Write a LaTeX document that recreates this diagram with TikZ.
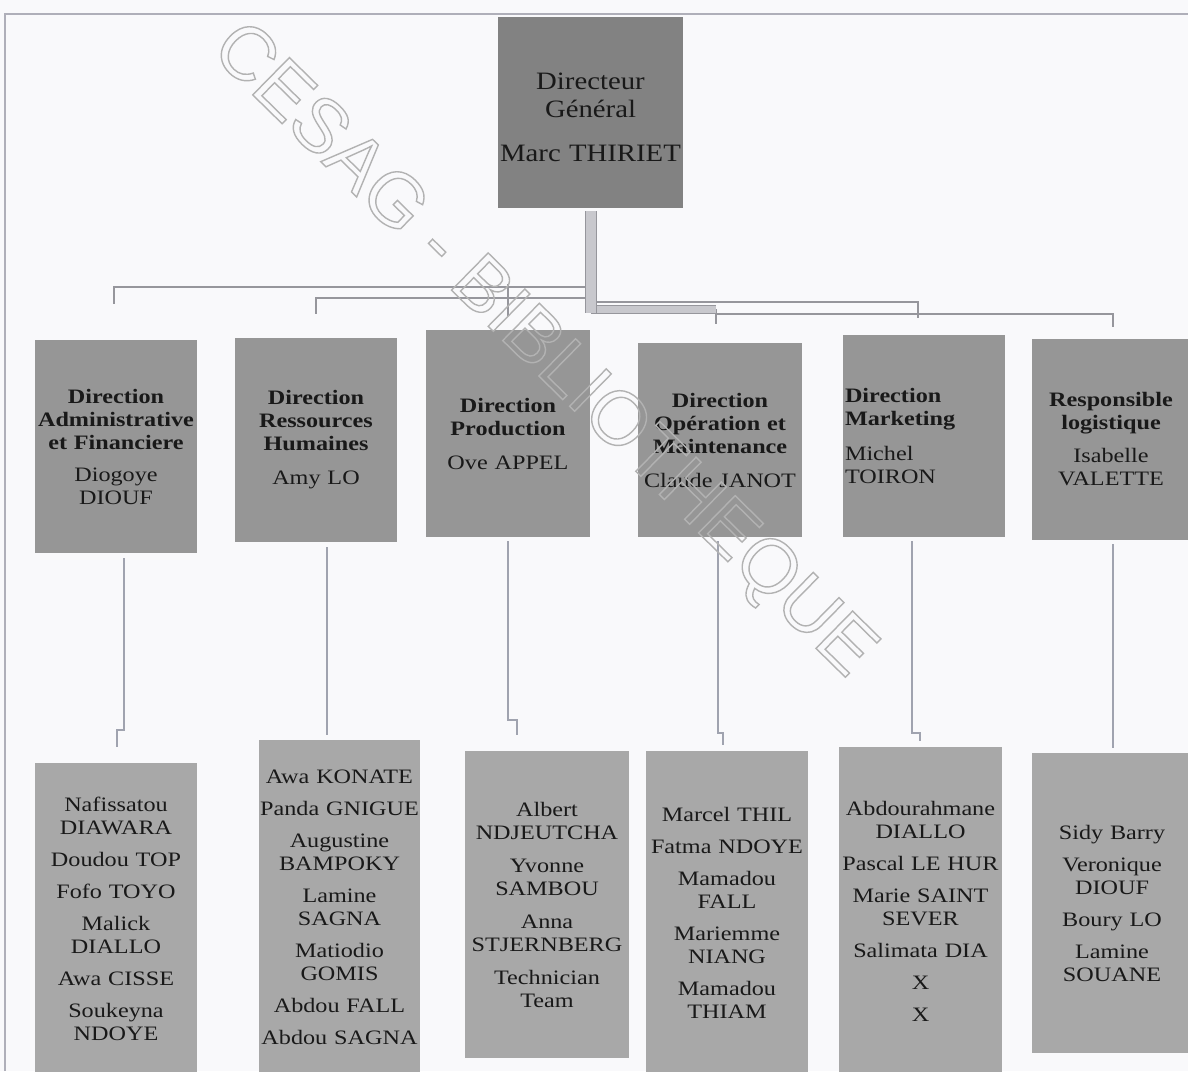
\documentclass[tikz,border=0pt]{standalone}
\usepackage{fontspec}
\setmainfont{Liberation Serif}
\newfontfamily\boxfont{Liberation Serif}[FakeStretch=1.18]
\newfontfamily\headfont{Liberation Serif}[FakeStretch=1.15]
\newfontfamily\wmfont{Liberation Sans}
\definecolor{topgray}{RGB}{130,130,130}
\definecolor{midgray}{RGB}{150,150,150}
\definecolor{lowgray}{RGB}{168,168,168}
\definecolor{txt}{RGB}{25,25,25}
\definecolor{conn}{RGB}{150,150,156}
\definecolor{connlight}{RGB}{200,200,205}
\definecolor{vconncol}{RGB}{160,163,175}
\definecolor{framecol}{RGB}{175,175,185}
\definecolor{bg}{RGB}{249,249,251}
\definecolor{wmcol}{RGB}{178,178,178}
\begin{document}
\begin{tikzpicture}[x=1pt,y=-1pt,
  topbox/.style={fill=topgray, inner sep=0pt, align=center, text=txt, font=\headfont\fontsize{25}{28}\selectfont},
  midbox/.style={fill=midgray, inner sep=0pt, align=center, text=txt, font=\boxfont\fontsize{20.5}{23}\selectfont},
  lowbox/.style={fill=lowgray, inner sep=0pt, align=center, text=txt, font=\boxfont\fontsize{20.5}{23}\selectfont},
  hconn/.style={draw=conn, line width=2.6pt},
  trunkbar/.style={draw=conn, line width=1pt, double=connlight, double distance=#1},
  trunkbar/.default=10pt,
  vconn/.style={draw=vconncol, line width=2pt},
  wm/.style={font=\wmfont\fontsize{76}{76}\selectfont, text=wmcol, inner sep=0pt}
]
\useasboundingbox (0,0) rectangle (1188,1071);
\fill[bg] (0,0) rectangle (1188,1071);
% frame
\draw[framecol, line width=1.3pt] (5,1071) -- (5,14) -- (1188,14);

% top box
\node[topbox, minimum width=185pt, minimum height=191pt, text width=183pt] (top) at (590.5,112.5)
  {\rule{0pt}{0pt}\\[-2pt]Directeur\\Général\\[16pt]Marc THIRIET};

% middle boxes
\node[midbox, minimum width=162pt, minimum height=213pt, text width=160pt] (m1) at (116,446.5)
  {\textbf{Direction}\\\textbf{Administrative}\\\textbf{et Financiere}\\[9pt]Diogoye\\DIOUF};
\node[midbox, minimum width=162pt, minimum height=204pt, text width=160pt] (m2) at (316,440)
  {\textbf{Direction}\\\textbf{Ressources}\\\textbf{Humaines}\\[11pt]Amy LO};
\node[midbox, minimum width=164pt, minimum height=207pt, text width=162pt] (m3) at (508,433.5)
  {\textbf{Direction}\\\textbf{Production}\\[11pt]Ove APPEL};
\node[midbox, minimum width=164pt, minimum height=194pt, text width=162pt] (m4) at (720,440)
  {\textbf{Direction}\\\textbf{Opération et}\\\textbf{Maintenance}\\[11pt]Claude JANOT};
\node[midbox, minimum width=162pt, minimum height=202pt, text width=158pt, align=left] (m5) at (924,436)
  {\textbf{Direction}\\\textbf{Marketing}\\[12pt]Michel\\TOIRON};
\node[midbox, minimum width=158pt, minimum height=201pt, text width=156pt] (m6) at (1111,439.5)
  {\textbf{Responsible}\\\textbf{logistique}\\[10pt]Isabelle\\VALETTE};

% bottom boxes
\node[lowbox, minimum width=162pt, minimum height=312pt, text width=160pt] (b1) at (116,919)
  {Nafissatou\\DIAWARA\\[9pt]Doudou TOP\\[9pt]Fofo TOYO\\[9pt]Malick\\DIALLO\\[9pt]Awa CISSE\\[9pt]Soukeyna\\NDOYE};
\node[lowbox, minimum width=161pt, minimum height=335pt, text width=161pt] (b2) at (339.5,907.5)
  {Awa KONATE\\[9pt]Panda GNIGUE\\[9pt]Augustine\\BAMPOKY\\[9pt]Lamine\\SAGNA\\[9pt]Matiodio\\GOMIS\\[9pt]Abdou FALL\\[9pt]Abdou SAGNA};
\node[lowbox, minimum width=164pt, minimum height=307pt, text width=162pt] (b3) at (547,904.5)
  {Albert\\NDJEUTCHA\\[10pt]Yvonne\\SAMBOU\\[10pt]Anna\\STJERNBERG\\[10pt]Technician\\Team};
\node[lowbox, minimum width=162pt, minimum height=324pt, text width=160pt] (b4) at (727,913)
  {Marcel THIL\\[9pt]Fatma NDOYE\\[9pt]Mamadou\\FALL\\[9pt]Mariemme\\NIANG\\[9pt]Mamadou\\THIAM};
\node[lowbox, minimum width=163pt, minimum height=328pt, text width=161pt] (b5) at (920.5,911)
  {Abdourahmane\\DIALLO\\[9pt]Pascal LE HUR\\[9pt]Marie SAINT\\SEVER\\[9pt]Salimata DIA\\[9pt]X\\[9pt]X};
\node[lowbox, minimum width=160pt, minimum height=300pt, text width=156pt] (b6) at (1112,903)
  {Sidy Barry\\[9pt]Veronique\\DIOUF\\[9pt]Boury LO\\[9pt]Lamine\\SOUANE};

% connectors top -> middle
\coordinate (h1) at (590.5,287);
\coordinate (h2) at (590.5,298);
\coordinate (h3) at (590.5,302);
\coordinate (hub) at (590.5,309);
\coordinate (barend) at (716,309);
\draw[hconn] (h1) -| ([xshift=-2pt,yshift=36pt]m1.north);
\draw[hconn] (h2) -| ([yshift=24pt]m2.north);
\draw[hconn] ([yshift=14pt]m3.north |- h2) -- ([yshift=14pt]m3.north);
\draw[hconn] (h3) -| ([xshift=-6pt,yshift=17pt]m5.north);
\draw[hconn] (barend) -- ([xshift=-4pt,yshift=19pt]m4.north);
\draw[hconn] ([yshift=-5pt]barend) -| ([xshift=2pt,yshift=12pt]m6.north);
\draw[trunkbar=7pt] (hub) -- (barend);
\draw[trunkbar=10pt] ([yshift=-3pt]top.south) -- ([yshift=-4pt]hub);

% connectors middle -> bottom
\draw[vconn] ([xshift=8pt,yshift=-5pt]m1.south) -- ([xshift=8pt,yshift=33pt]b1.north)
  -- ([xshift=1pt,yshift=33pt]b1.north) -- ([xshift=1pt,yshift=16pt]b1.north);
\draw[vconn] ([xshift=11pt,yshift=-5pt]m2.south) -- ([xshift=-12.5pt,yshift=5pt]b2.north);
\draw[vconn] ([yshift=-4pt]m3.south) -- ([xshift=-39pt,yshift=31pt]b3.north)
  -- ([xshift=-30pt,yshift=31pt]b3.north) -- ([xshift=-30pt,yshift=16pt]b3.north);
\draw[vconn] ([xshift=-2pt,yshift=-4pt]m4.south) -- ([xshift=-9pt,yshift=18pt]b4.north)
  -- ([xshift=-4pt,yshift=18pt]b4.north) -- ([xshift=-4pt,yshift=6pt]b4.north);
\draw[vconn] ([xshift=-12pt,yshift=-4pt]m5.south) -- ([xshift=-8.5pt,yshift=14pt]b5.north)
  -- ([xshift=-0.5pt,yshift=14pt]b5.north) -- ([xshift=-0.5pt,yshift=6pt]b5.north);
\draw[vconn] ([xshift=2pt,yshift=-4pt]m6.south) -- ([xshift=1pt,yshift=5pt]b6.north);

% watermark
\node[wm, rotate=-44.5] (wmk) at (542,352)
  {\special{pdf:literal direct 1 Tr 1.4 w}CESAG - BIBLIOTHEQUE\special{pdf:literal direct 0 Tr}};
\end{tikzpicture}
\end{document}
